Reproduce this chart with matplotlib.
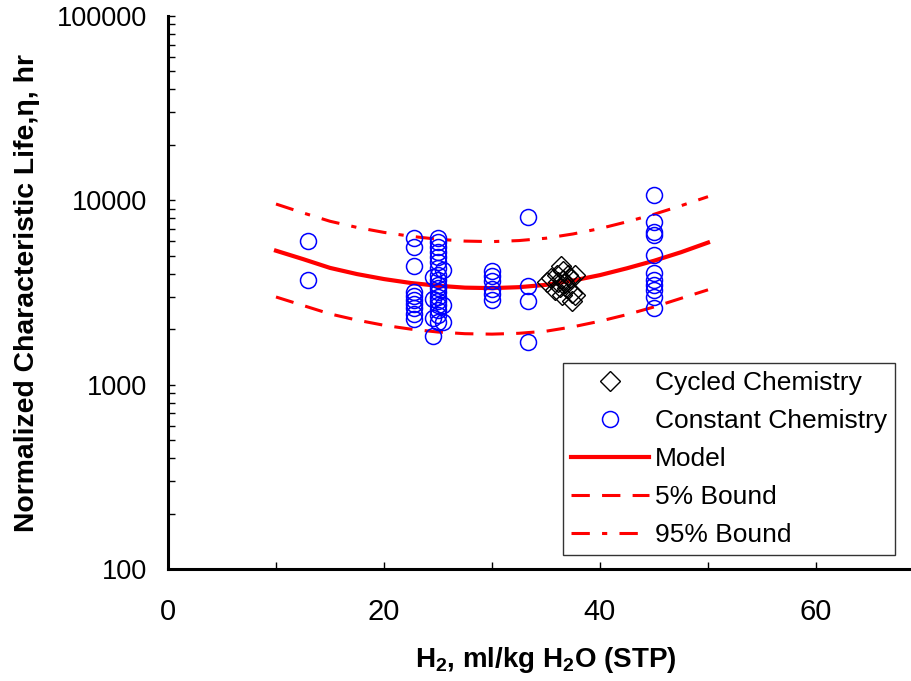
"""Normalized characteristic life vs H2 concentration (log scale) with model and bounds."""
import numpy as np
import matplotlib
matplotlib.use("Agg")
import matplotlib.pyplot as plt

plt.rcParams.update({
    "font.family": ["Liberation Sans", "DejaVu Sans"],
    "mathtext.default": "regular",
})

# model curve and 5% / 95% bounds (hr)
model_x = [10, 12.5, 15, 17.5, 20, 22.5, 25, 27.5, 30, 32.5, 35, 37.5, 40, 42.5, 45, 47.5, 50]
model_y = [5330, 4800, 4300, 3980, 3740, 3560, 3440, 3360, 3340, 3380, 3480, 3670, 3930, 4280, 4700, 5230, 5900]
bound95_y = [9550, 8550, 7700, 7130, 6700, 6380, 6150, 6010, 5970, 6050, 6230, 6570, 7030, 7650, 8400, 9350, 10470]
bound05_y = [2990, 2690, 2420, 2240, 2100, 2000, 1930, 1890, 1880, 1900, 1950, 2060, 2210, 2400, 2640, 2940, 3270]

# cycled chemistry (diamonds)
cycled_x = [35.1, 35.5, 35.8, 36.0, 36.1, 36.4, 36.6, 36.6, 36.3, 36.5, 36.9, 37.0,
            37.2, 37.4, 37.4, 37.7, 37.7, 36.8]
cycled_y = [3620, 3780, 3250, 3940, 3600, 4400, 4150, 3700, 3400, 3070, 3330, 3950,
            3780, 3130, 2850, 3940, 3070, 3550]

# constant chemistry (circles), grouped by H2 level
const_groups = {
    13.0: [6020, 3700],
    22.8: [6250, 5590, 4405, 3180, 3030, 2880, 2740, 2610, 2420, 2270],
    24.5: [3840, 2920, 2300, 1840],
    25.0: [6250, 5950, 5590, 5250, 4930, 4630, 4300, 3940, 3700, 3475, 3350, 3180,
           2990, 2845, 2705, 2545, 2390, 2190],
    25.5: [4190, 2705, 2190],
    30.0: [4140, 3890, 3655, 3305, 3105, 2880],
    33.3: [8130, 3435, 2845, 1705],
    45.0: [10700, 7640, 6740, 6490, 5055, 4040, 3700, 3475, 3265, 3000, 2610],
}

const_x = [x for x, ys in const_groups.items() for _ in ys]
const_y = [y for ys in const_groups.values() for y in ys]

fig = plt.figure(figsize=(9.12, 6.81), dpi=100)
ax = fig.add_axes([168 / 912, 112 / 681, 756 / 912, 553 / 681])

ax.plot(cycled_x, cycled_y, linestyle="none", marker="D", markersize=10.5,
        markerfacecolor="none", markeredgecolor="black", markeredgewidth=1.0,
        label="Cycled Chemistry", zorder=4)
ax.plot(const_x, const_y, linestyle="none", marker="o", markersize=11.5,
        markerfacecolor="none", markeredgecolor="#0000ff", markeredgewidth=1.1,
        label="Constant Chemistry", zorder=3)
ax.plot(model_x, model_y, color="#ff0000", lw=3.0, label="Model", zorder=2)
ax.plot(model_x, bound05_y, color="#ff0000", lw=2.2, dashes=(6, 4),
        label="5% Bound", zorder=2)
ax.plot(model_x, bound95_y, color="#ff0000", lw=2.2, dashes=(6, 4, 1.7, 4),
        label="95% Bound", zorder=2)

ax.set_yscale("log")
ax.set_ylim(100, 100000)
ax.set_xlim(0, 70)
ax.set_yticks([100, 1000, 10000, 100000])
ax.set_yticklabels(["100", "1000", "10000", "100000"])
ax.set_xticks(np.arange(0, 80, 10))
ax.set_xticklabels(["0", "", "20", "", "40", "", "60", ""])

for side in ("top", "right"):
    ax.spines[side].set_visible(False)
for side in ("left", "bottom"):
    ax.spines[side].set_linewidth(2.2)

ax.tick_params(axis="both", which="both", direction="in", width=1.0)
ax.tick_params(axis="both", which="major", length=5)
ax.tick_params(axis="y", which="minor", length=5)
ax.tick_params(axis="y", labelsize=19.5, pad=15)
ax.tick_params(axis="x", labelsize=21, pad=21)

ax.set_ylabel("Normalized Characteristic Life,η, hr", fontsize=20.4, fontweight="bold",
              va="center", ha="center")
ax.yaxis.set_label_coords(-0.1865, 0.5)
ax.set_xlabel("H$_2$, ml/kg H$_2$O (STP)", fontsize=20, fontweight="bold",
              va="center", ha="center")
ax.xaxis.set_label_coords(0.5, -0.165)

leg = ax.legend(loc="upper left", bbox_to_anchor=(563 / 912, 1 - 363 / 681),
                bbox_transform=fig.transFigure, fontsize=19, frameon=True,
                fancybox=False, shadow=False, borderpad=0.3, labelspacing=0.53,
                handlelength=2.95, handletextpad=0.25, borderaxespad=0)
leg.get_frame().set_edgecolor("black")
leg.get_frame().set_linewidth(1.0)

fig.savefig("out.png", dpi=100)
